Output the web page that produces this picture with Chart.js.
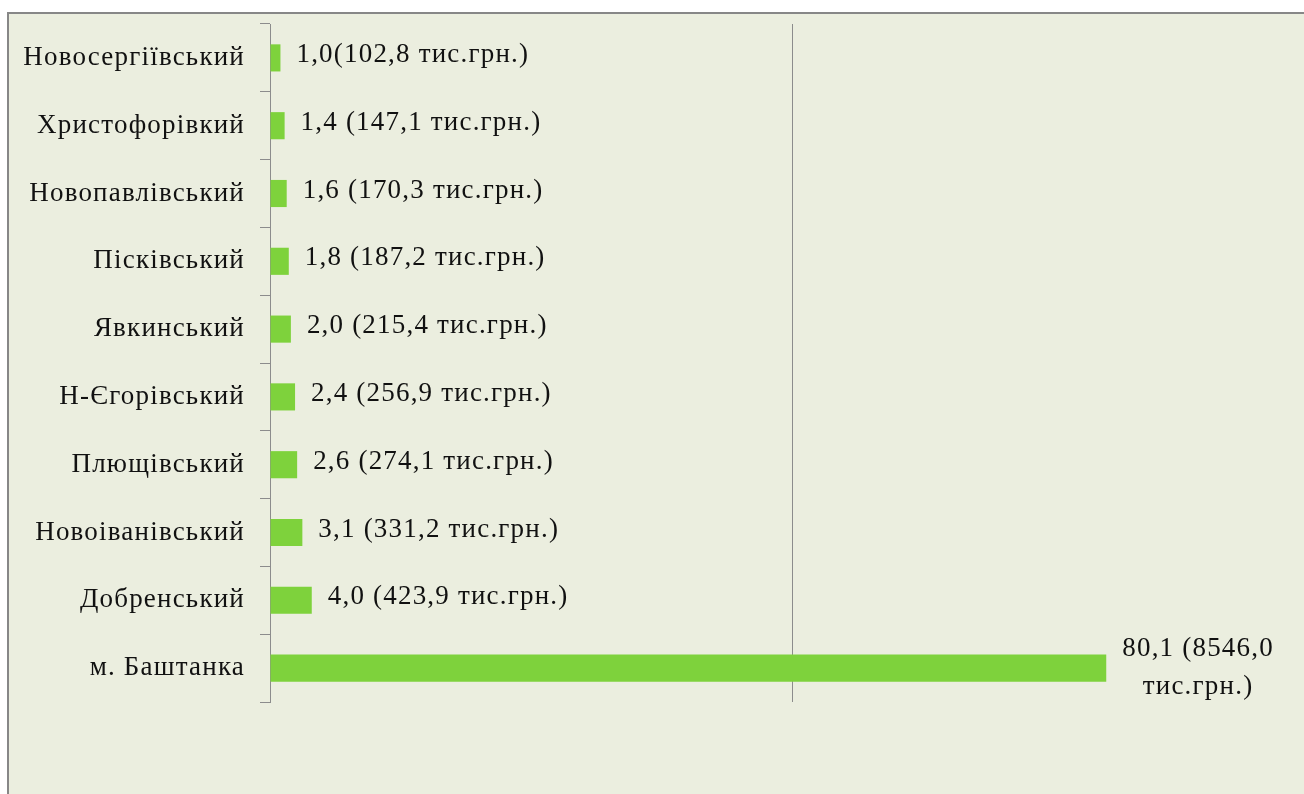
<!DOCTYPE html>
<html lang="uk">
<head>
    <meta charset="UTF-8">
    <title>Розподіл надходжень</title>
    <script src="https://cdn.jsdelivr.net/npm/chart.js"></script>
    <style>
        html, body {
            margin: 0;
            padding: 0;
            background: #ffffff;
            overflow: hidden;
            width: 1304px;
            height: 794px;
        }
        .frame {
            position: absolute;
            left: 7px;
            top: 12px;
            width: 1400px;
            height: 900px;
            background: #ebeedf;
            border: 2px solid #878787;
        }
        #chart {
            position: absolute;
            left: 0;
            top: 0;
        }
    </style>
</head>
<body>
    <div class="frame"></div>
    <canvas id="chart" width="1320" height="794"></canvas>

    <script>
        const categories = ["Новосергіївський", "Христофорівкий", "Новопавлівський", "Пісківський", "Явкинський",
            "Н-Єгорівський", "Плющівський", "Новоіванівський", "Добренський", "м. Баштанка"];
        const shares = [1.0, 1.4, 1.6, 1.8, 2.0, 2.4, 2.6, 3.1, 4.0, 80.1];
        const barLabels = [
            "1,0(102,8 тис.грн.)",
            "1,4 (147,1 тис.грн.)",
            "1,6 (170,3 тис.грн.)",
            "1,8 (187,2 тис.грн.)",
            "2,0 (215,4 тис.грн.)",
            "2,4 (256,9 тис.грн.)",
            "2,6 (274,1 тис.грн.)",
            "3,1 (331,2 тис.грн.)",
            "4,0 (423,9 тис.грн.)",
            ["80,1 (8546,0", "тис.грн.)"]
        ];

        const serif = "'Liberation Serif', 'Times New Roman', serif";

        // трохи розрідженіший шрифт, як в оригіналі
        const spacingPlugin = {
            id: 'spacing',
            beforeDraw(chart) { chart.ctx.letterSpacing = '1.2px'; }
        };

        // підписи біля стовпчиків
        const barLabelPlugin = {
            id: 'barLabels',
            afterDatasetsDraw(chart) {
                const ctx = chart.ctx;
                const meta = chart.getDatasetMeta(0);
                ctx.save();
                ctx.fillStyle = '#111';
                ctx.font = '27px ' + serif;
                ctx.textBaseline = 'middle';
                meta.data.forEach((bar, i) => {
                    const text = barLabels[i];
                    const x = bar.x + 16;
                    if (Array.isArray(text)) {
                        const w = Math.max(...text.map(t => ctx.measureText(t).width));
                        ctx.textAlign = 'center';
                        const lh = 38;
                        const y0 = bar.y - lh * (text.length - 1) / 2;
                        text.forEach((t, k) => ctx.fillText(t, x + w / 2, y0 + k * lh));
                    } else {
                        ctx.textAlign = 'left';
                        ctx.fillText(text, x, bar.y - 3);
                    }
                });
                ctx.restore();
            }
        };

        new Chart(document.getElementById('chart'), {
            type: 'bar',
            data: {
                labels: categories,
                datasets: [{
                    data: shares,
                    backgroundColor: '#7ed23c',
                    borderWidth: 0,
                    categoryPercentage: 1,
                    barPercentage: 0.4
                }]
            },
            options: {
                indexAxis: 'y',
                responsive: false,
                animation: false,
                devicePixelRatio: 1,
                layout: { padding: { left: 0, top: 24, right: 6, bottom: 92 } },
                plugins: {
                    legend: { display: false },
                    tooltip: { enabled: false }
                },
                scales: {
                    x: {
                        min: 0,
                        max: 100,
                        ticks: { display: false, stepSize: 50 },
                        grid: { color: '#8c8c8c', drawTicks: false, lineWidth: 1 },
                        border: { display: false },
                        afterFit(scale) { scale.height = 0; }
                    },
                    y: {
                        ticks: {
                            color: '#111',
                            font: { family: serif, size: 27 },
                            padding: 15
                        },
                        grid: {
                            drawOnChartArea: false,
                            drawTicks: true,
                            tickLength: 10,
                            color: '#8c8c8c'
                        },
                        border: { display: true, color: '#8c8c8c' },
                        afterFit(scale) {
                            scale.width = 270;
                            scale.paddingTop = 0;
                            scale.paddingBottom = 0;
                        }
                    }
                }
            },
            plugins: [spacingPlugin, barLabelPlugin]
        });
    </script>
</body>
</html>
